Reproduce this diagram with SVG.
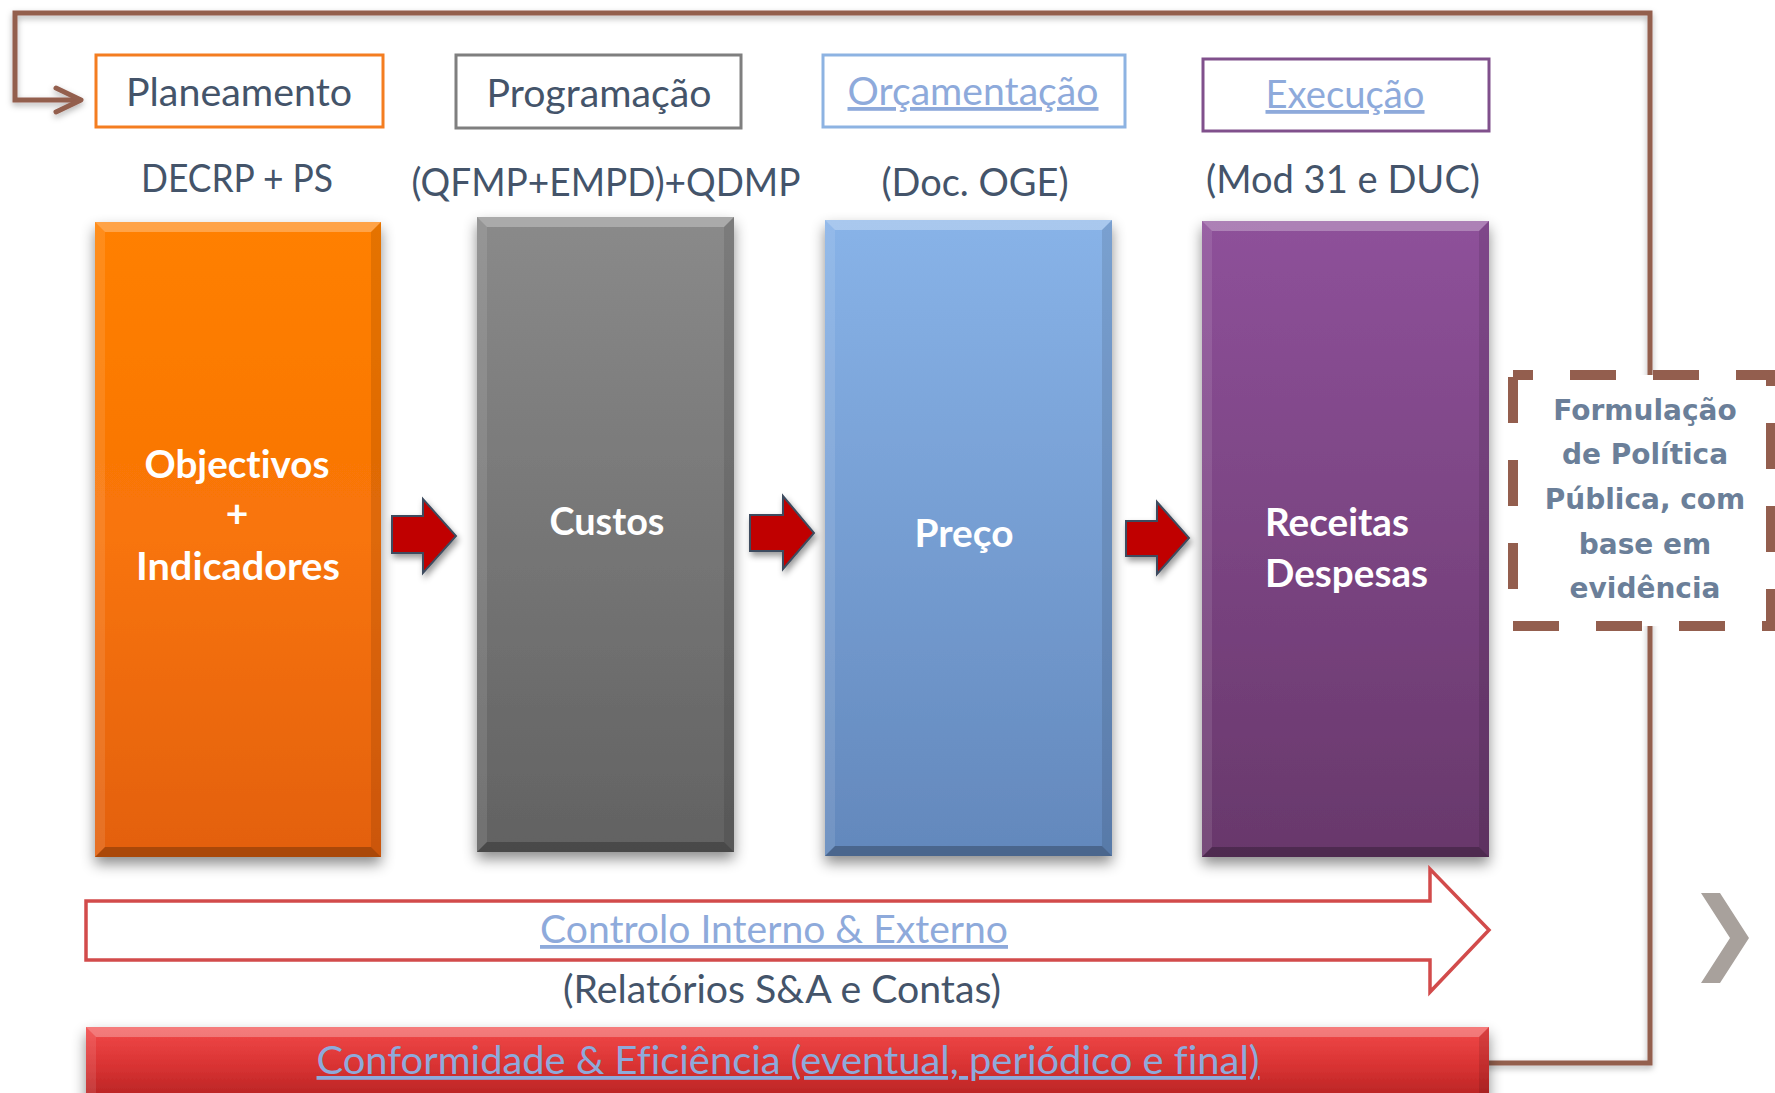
<svg xmlns="http://www.w3.org/2000/svg" width="1775" height="1093" viewBox="0 0 1775 1093">
<style>
.lbl{font-family:Lato,"Liberation Sans",sans-serif;font-size:38px;fill:#44546A;text-anchor:middle;font-variant-ligatures:none}
.lnk{fill:#8EAADB;text-decoration:underline;text-decoration-skip-ink:none}
.big{font-family:Lato,"Liberation Sans",sans-serif;font-weight:bold;font-size:39px;fill:#FFFFFF;font-variant-ligatures:none}
.frm{font-family:"DejaVu Sans",Verdana,sans-serif;font-weight:bold;font-size:28px;fill:#6B7F99;text-anchor:middle}
.tag{fill:#FFFFFF;stroke-width:3}
.bvT{fill:#FFFFFF;opacity:0.28}
.bvL{fill:#FFFFFF;opacity:0.1}
.bvR{fill:#000000;opacity:0.1}
.bvB{fill:#000000;opacity:0.25}
.blk{fill:#C00000;stroke:#3E4C5E;stroke-width:2;filter:url(#sh2)}
.line{fill:none;stroke:#935E4E;stroke-width:5;stroke-linejoin:miter}
</style>
<defs>
<linearGradient id="gO" x1="0" y1="0" x2="0" y2="1"><stop offset="0" stop-color="#FF8000"/><stop offset="0.5" stop-color="#F87408"/><stop offset="1" stop-color="#E3600E"/></linearGradient>
<linearGradient id="gG" x1="0" y1="0" x2="0" y2="1"><stop offset="0" stop-color="#8A8A8A"/><stop offset="1" stop-color="#626262"/></linearGradient>
<linearGradient id="gB" x1="0" y1="0" x2="0" y2="1"><stop offset="0" stop-color="#88B3E8"/><stop offset="1" stop-color="#6388BC"/></linearGradient>
<linearGradient id="gP" x1="0" y1="0" x2="0" y2="1"><stop offset="0" stop-color="#8E519A"/><stop offset="1" stop-color="#68386B"/></linearGradient>
<linearGradient id="gR" x1="0" y1="0" x2="0" y2="1"><stop offset="0" stop-color="#F24A4A"/><stop offset="0.5" stop-color="#D83232"/><stop offset="1" stop-color="#AE2020"/></linearGradient>
<filter id="sh" x="-20%" y="-10%" width="140%" height="125%"><feDropShadow dx="0" dy="7" stdDeviation="7" flood-color="#000" flood-opacity="0.45"/></filter>
<filter id="sh2" x="-30%" y="-30%" width="160%" height="160%"><feDropShadow dx="2" dy="4" stdDeviation="3" flood-color="#000" flood-opacity="0.4"/></filter>
<filter id="shL" filterUnits="userSpaceOnUse" x="0" y="0" width="1775" height="1093"><feDropShadow dx="0" dy="3" stdDeviation="3" flood-color="#000" flood-opacity="0.3"/></filter>
<marker id="openArrow" markerUnits="userSpaceOnUse" markerWidth="40" markerHeight="40" viewBox="-32 -20 40 40" refX="0" refY="0" orient="auto"><path d="M-25,-12 L0,0 L-25,12" fill="none" stroke="#935E4E" stroke-width="5" stroke-linecap="round" stroke-linejoin="round"/></marker>
</defs>
<rect width="1775" height="1093" fill="#FFFFFF"/>

<g id="connectors" filter="url(#shL)">
<path class="line" d="M1484,1063 H1650 V620"/>
<path class="line" d="M1650,380 V13 H15 V100 H81" marker-end="url(#openArrow)"/>
</g>

<g id="label-planeamento">
<rect class="tag" x="96" y="55" width="287" height="72" stroke="#F47D20"/>
<text class="lbl" x="239" y="106" textLength="226" lengthAdjust="spacingAndGlyphs">Planeamento</text>
<text class="lbl" x="237" y="192" textLength="192" lengthAdjust="spacingAndGlyphs">DECRP + PS</text>
</g>
<g id="label-programacao">
<rect class="tag" x="456" y="55" width="285" height="73" stroke="#7F7F7F"/>
<text class="lbl" x="599" y="107" textLength="225" lengthAdjust="spacingAndGlyphs">Programação</text>
<text class="lbl" x="606" y="196" textLength="389" lengthAdjust="spacingAndGlyphs">(QFMP+EMPD)+QDMP</text>
</g>
<g id="label-orcamentacao">
<rect class="tag" x="823" y="55" width="302" height="72" stroke="#8DB3E2"/>
<text class="lbl lnk" x="973" y="105" textLength="251" lengthAdjust="spacingAndGlyphs">Orçamentação</text>
<text class="lbl" x="975" y="196" textLength="187" lengthAdjust="spacingAndGlyphs">(Doc. OGE)</text>
</g>
<g id="label-execucao">
<rect class="tag" x="1203" y="59" width="286" height="72" stroke="#80508C"/>
<text class="lbl lnk" x="1345" y="108" textLength="159" lengthAdjust="spacingAndGlyphs">Execução</text>
<text class="lbl" x="1343" y="193" textLength="274" lengthAdjust="spacingAndGlyphs">(Mod 31 e DUC)</text>
</g>

<g id="box-objectivos">
<rect x="95" y="222" width="286" height="635" fill="url(#gO)" filter="url(#sh)"/>
<polygon class="bvT" points="95,222 381,222 371,232 105,232"/>
<polygon class="bvL" points="95,222 105,232 105,847 95,857"/>
<polygon class="bvR" points="381,222 371,232 371,847 381,857"/>
<polygon class="bvB" points="95,857 105,847 371,847 381,857"/>
<text class="big" x="237" y="478" text-anchor="middle" textLength="185" lengthAdjust="spacingAndGlyphs">Objectivos</text>
<text class="big" x="237" y="527" text-anchor="middle">+</text>
<text class="big" x="238" y="580" text-anchor="middle" textLength="204" lengthAdjust="spacingAndGlyphs">Indicadores</text>
</g>
<g id="box-custos">
<rect x="477" y="217" width="257" height="635" fill="url(#gG)" filter="url(#sh)"/>
<polygon class="bvT" points="477,217 734,217 724,227 487,227"/>
<polygon class="bvL" points="477,217 487,227 487,842 477,852"/>
<polygon class="bvR" points="734,217 724,227 724,842 734,852"/>
<polygon class="bvB" points="477,852 487,842 724,842 734,852"/>
<text class="big" x="607" y="535" text-anchor="middle" textLength="115" lengthAdjust="spacingAndGlyphs">Custos</text>
</g>
<g id="box-preco">
<rect x="825" y="220" width="287" height="636" fill="url(#gB)" filter="url(#sh)"/>
<polygon class="bvT" points="825,220 1112,220 1102,230 835,230"/>
<polygon class="bvL" points="825,220 835,230 835,846 825,856"/>
<polygon class="bvR" points="1112,220 1102,230 1102,846 1112,856"/>
<polygon class="bvB" points="825,856 835,846 1102,846 1112,856"/>
<text class="big" x="964" y="547" text-anchor="middle" textLength="99" lengthAdjust="spacingAndGlyphs">Preço</text>
</g>
<g id="box-receitas">
<rect x="1202" y="221" width="287" height="636" fill="url(#gP)" filter="url(#sh)"/>
<polygon class="bvT" points="1202,221 1489,221 1479,231 1212,231"/>
<polygon class="bvL" points="1202,221 1212,231 1212,847 1202,857"/>
<polygon class="bvR" points="1489,221 1479,231 1479,847 1489,857"/>
<polygon class="bvB" points="1202,857 1212,847 1479,847 1489,857"/>
<text class="big" x="1265" y="536" textLength="144" lengthAdjust="spacingAndGlyphs">Receitas</text>
<text class="big" x="1265" y="587" textLength="163" lengthAdjust="spacingAndGlyphs">Despesas</text>
</g>

<g id="flow-arrows">
<polygon class="blk" points="392,516 423,516 423,499 456,536 423,573 423,553 392,553"/>
<polygon class="blk" points="750,515 783,515 783,496 814,533 783,569 783,551 750,551"/>
<polygon class="blk" points="1126,521 1157,521 1157,502 1189,538 1157,574 1157,556 1126,556"/>
</g>

<g id="formulacao">
<rect x="1513" y="375" width="258" height="251" fill="#FFFFFF" stroke="#935E4E" stroke-width="10" stroke-dasharray="46 37" stroke-dashoffset="26"/>
<text class="frm" x="1645" y="420">Formulação</text>
<text class="frm" x="1645" y="464">de Política</text>
<text class="frm" x="1645" y="509">Pública, com</text>
<text class="frm" x="1645" y="554">base em</text>
<text class="frm" x="1645" y="598">evidência</text>
</g>

<g id="controlo">
<polygon points="86,901 1430,901 1430,869 1489,930 1430,992 1430,960 86,960" fill="#FFFFFF" stroke="#D24B4B" stroke-width="3.5"/>
<text class="lbl lnk" x="774" y="943" textLength="468" lengthAdjust="spacingAndGlyphs">Controlo Interno &amp; Externo</text>
<text class="lbl" x="782" y="1003" textLength="438" lengthAdjust="spacingAndGlyphs">(Relatórios S&amp;A e Contas)</text>
</g>

<g id="conformidade">
<rect x="86" y="1027" width="1403" height="80" fill="url(#gR)" filter="url(#sh)"/>
<polygon class="bvT" points="86,1027 1489,1027 1479,1037 96,1037"/>
<polygon class="bvL" points="86,1027 96,1037 96,1100 86,1100"/>
<polygon class="bvR" points="1489,1027 1479,1037 1479,1100 1489,1100"/>
<text class="lbl lnk" x="788" y="1074" textLength="943" lengthAdjust="spacingAndGlyphs">Conformidade &amp; Eficiência (eventual, periódico e final)</text>
</g>

<g id="nav-chevron">
<polygon points="1701,893 1720,893 1749,938 1720,983 1701,983 1730,938" fill="#A8A19C"/>
</g>
</svg>
